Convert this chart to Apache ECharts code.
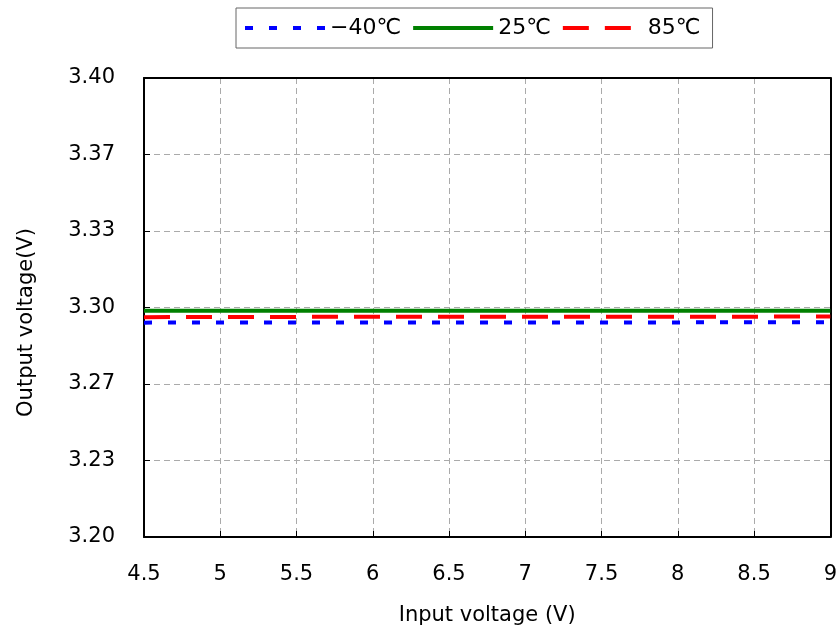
<!DOCTYPE html>
<html>
<head>
<meta charset="utf-8">
<script src="https://cdn.jsdelivr.net/npm/echarts@6/dist/echarts.min.js"></script>
<style>html,body{margin:0;padding:0;background:#fff}#c{width:840px;height:632px}</style>
</head>
<body>
<div id="c"></div>
<script>
var inputVoltage = [4.5, 5, 5.5, 6, 6.5, 7, 7.5, 8, 8.5, 9];
var vMinus40 = [3.2934, 3.2935, 3.2935, 3.2935, 3.2935, 3.2935, 3.2935, 3.2935, 3.2936, 3.2936];
var v25 = [3.2986, 3.2986, 3.2986, 3.2986, 3.2986, 3.2986, 3.2986, 3.2986, 3.2986, 3.2986];
var v85 = [3.2958, 3.2959, 3.2959, 3.2960, 3.2960, 3.2960, 3.2960, 3.2960, 3.2960, 3.2961];
var seriesNames = ['\u221240\u2103', '25\u2103', '85\u2103'];
var yTicks = ['3.20', '3.23', '3.27', '3.30', '3.33', '3.37', '3.40'];

var font = '"DejaVu Sans", sans-serif';
function pairs(ys) { return inputVoltage.map(function (x, i) { return [x, ys[i]]; }); }
var grid = '#aaa';

var chart = echarts.init(document.getElementById('c'), null, { renderer: 'canvas' });
chart.setOption({
  animation: false,
  backgroundColor: '#fff',
  legend: {
    top: 8,
    left: 236,
    itemWidth: 80,
    itemHeight: 14,
    itemGap: 10,
    padding: [9, 12, 9, 7],
    borderColor: '#666',
    borderWidth: 1,
    itemStyle: { opacity: 0 },
    lineStyle: { width: 4 },
    textStyle: { fontFamily: font, fontSize: 22, color: '#000' },
    data: seriesNames
  },
  grid: { left: 144, right: 8, top: 78, bottom: 95 },
  xAxis: [{
    type: 'value', min: 4.5, max: 9, interval: 0.5,
    name: 'Input voltage (V)', nameLocation: 'middle', nameGap: 68,
    nameTextStyle: { fontFamily: font, fontSize: 21, color: '#000' },
    axisLine: { lineStyle: { color: '#000', width: 2 } },
    axisTick: { inside: true, length: 6, lineStyle: { color: '#000' } },
    axisLabel: { fontFamily: font, fontSize: 21, color: '#000', margin: 27 },
    splitLine: { show: true, lineStyle: { color: grid, type: [6, 4], width: 1 } }
  }, {
    type: 'value', min: 4.5, max: 9, position: 'top',
    axisLine: { show: true, lineStyle: { color: '#000', width: 2 } },
    axisTick: { show: false }, axisLabel: { show: false }, splitLine: { show: false }
  }],
  yAxis: [{
    type: 'value', min: 3.2, max: 3.4, interval: 0.2 / 6,
    name: 'Output voltage(V)', nameLocation: 'middle', nameGap: 107, nameRotate: 90,
    nameTextStyle: { fontFamily: font, fontSize: 21, color: '#000', padding: [0, 30, 0, 0] },
    axisLine: { show: true, lineStyle: { color: '#000', width: 2 } },
    axisTick: { show: true, inside: true, length: 6, lineStyle: { color: '#000' } },
    axisLabel: {
      fontFamily: font, fontSize: 21, color: '#000', margin: 29,
      formatter: function (v) { var i = Math.round((v - 3.2) / (0.2 / 6)); return yTicks[i]; }
    },
    splitLine: { show: true, lineStyle: { color: grid, type: [6, 4], width: 1 } }
  }, {
    type: 'value', min: 3.2, max: 3.4, position: 'right',
    axisLine: { show: true, lineStyle: { color: '#000', width: 2 } },
    axisTick: { show: false }, axisLabel: { show: false }, splitLine: { show: false }
  }],
  series: [
    { name: seriesNames[0], type: 'line', symbol: 'none', data: pairs(vMinus40),
      lineStyle: { color: '#0000ff', width: 4, type: [8, 16] }, itemStyle: { color: '#0000ff' }, z: 3 },
    { name: seriesNames[1], type: 'line', symbol: 'none', data: pairs(v25),
      lineStyle: { color: '#008000', width: 4 }, itemStyle: { color: '#008000' }, z: 2 },
    { name: seriesNames[2], type: 'line', symbol: 'none', data: pairs(v85),
      lineStyle: { color: '#ff0000', width: 4, type: [26, 16] }, itemStyle: { color: '#ff0000' }, z: 4 }
  ]
});
</script>
</body>
</html>
